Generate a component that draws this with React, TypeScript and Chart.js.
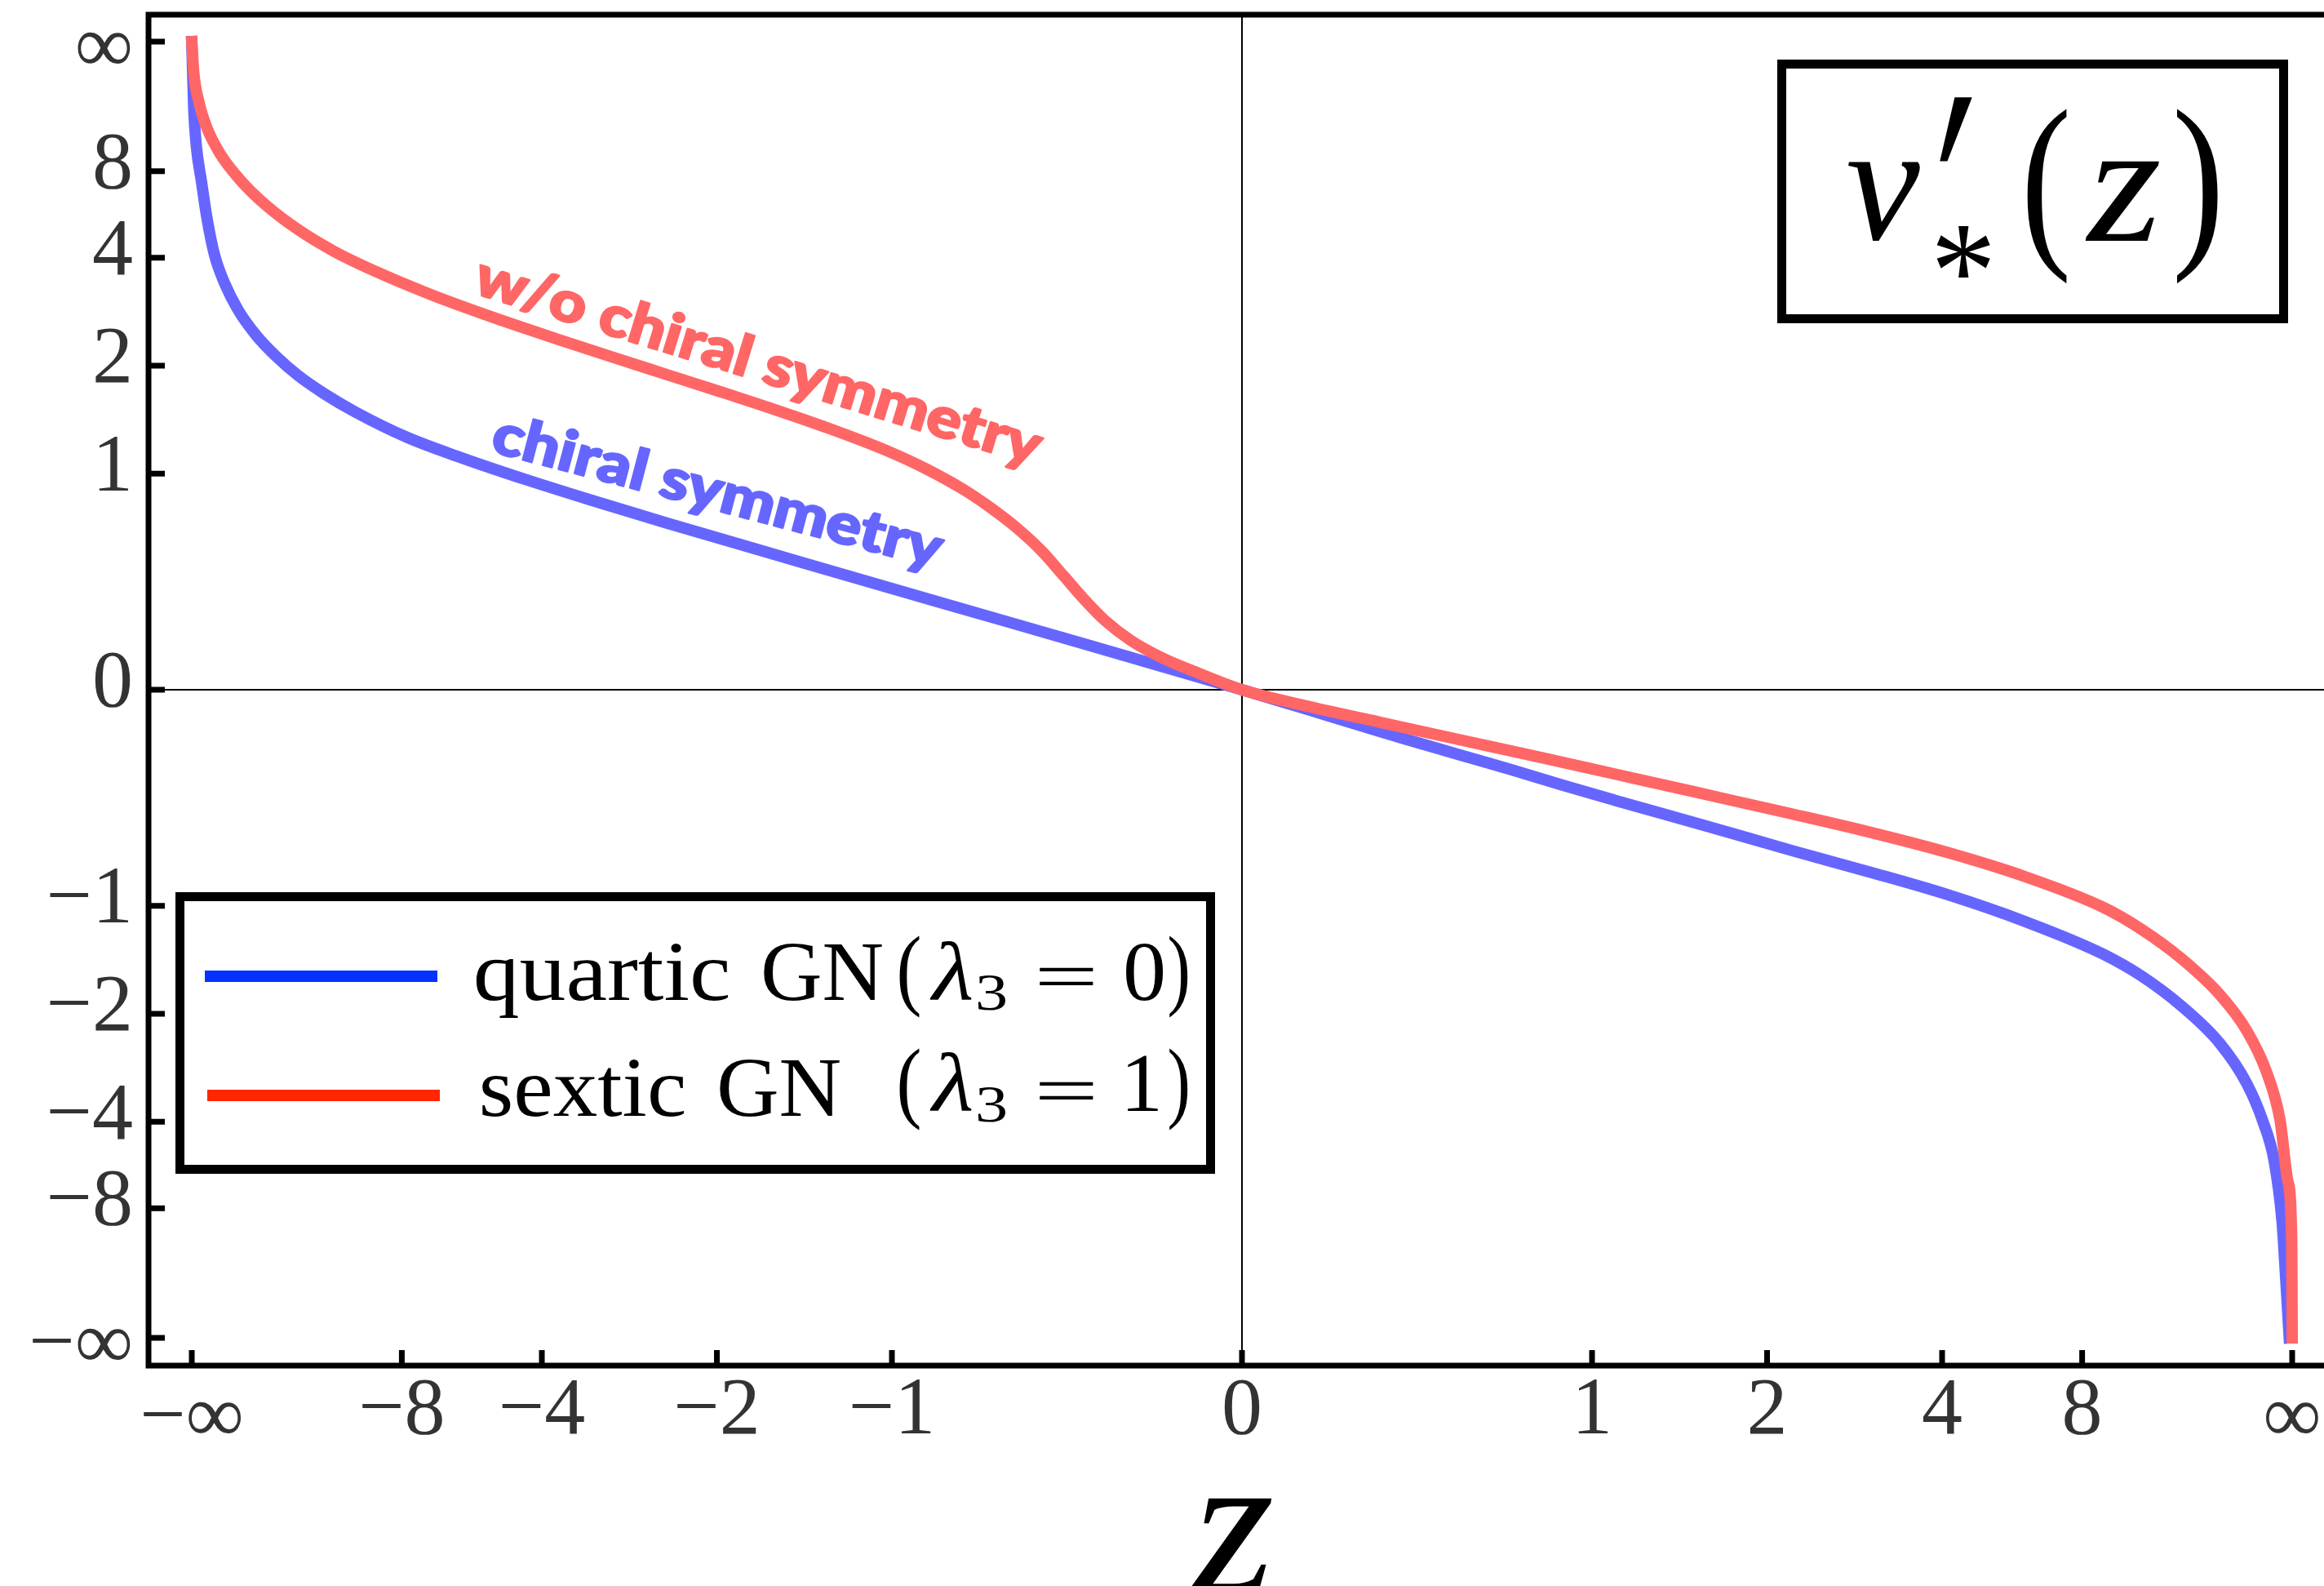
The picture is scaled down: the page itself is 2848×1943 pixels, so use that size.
import React, { useEffect, useRef } from "react";
import { Chart, registerables } from "chart.js";

Chart.register(...registerables);

const W = 2848;
const H = 1943;

// Both axes are compactified: a value u is placed at u / (|u| + 2), so ±∞ sit at ±1.
const tickValues = [-Infinity, -8, -4, -2, -1, 0, 1, 2, 4, 8, Infinity];
const tickLabels = ["−∞", "−8", "−4", "−2", "−1", "0", "1", "2", "4", "8", "∞"];

// quartic GN (λ3 = 0) — "chiral symmetry" curve, compactified z and v'
const quarticZ = [-1, -0.9981, -0.9957, -0.9907, -0.9858, -0.9783, -0.9684, -0.956, -0.9387, -0.9189, -0.899, -0.8743, -0.8445, -0.795, -0.7454, -0.681, -0.6216, -0.5472, -0.4233, -0.289, -0.1404, 0, 0.0578, 0.1074, 0.157, 0.2065, 0.256, 0.3056, 0.3551, 0.4491, 0.5232, 0.5974, 0.6716, 0.7457, 0.8198, 0.8569, 0.8939, 0.931, 0.957, 0.9718, 0.9829, 0.9904, 0.9941, 0.9972];
const quarticV = [1, 0.8955, 0.8393, 0.7834, 0.73, 0.6706, 0.6259, 0.5863, 0.547, 0.5132, 0.4851, 0.4572, 0.4288, 0.3895, 0.3592, 0.3238, 0.2935, 0.257, 0.1985, 0.1355, 0.0662, 0, -0.0282, -0.0525, -0.0768, -0.1, -0.1232, -0.1474, -0.1705, -0.2134, -0.2479, -0.281, -0.316, -0.3576, -0.4077, -0.442, -0.487, -0.5453, -0.6082, -0.6645, -0.7272, -0.8212, -0.9151, -1];

// sextic GN (λ3 = 1) — "w/o chiral symmetry" curve, compactified z and v'
const sexticZ = [-1, -0.9981, -0.9932, -0.9858, -0.9734, -0.9535, -0.9288, -0.899, -0.8643, -0.8247, -0.7751, -0.7207, -0.6463, -0.5967, -0.5472, -0.4977, -0.4481, -0.3986, -0.3391, -0.2995, -0.2643, -0.2395, -0.2147, -0.1899, -0.1702, -0.1503, -0.1305, -0.1057, -0.076, -0.0413, 0, 0.0578, 0.1322, 0.2065, 0.2808, 0.3551, 0.4294, 0.488, 0.5232, 0.5974, 0.6716, 0.7457, 0.8198, 0.8569, 0.8939, 0.931, 0.957, 0.9755, 0.9885, 0.9959, 0.9996, 1];
const sexticV = [1, 0.952, 0.9068, 0.8678, 0.8281, 0.7859, 0.7469, 0.7103, 0.6763, 0.6453, 0.6116, 0.579, 0.5381, 0.5118, 0.4861, 0.4604, 0.4341, 0.4064, 0.3695, 0.3398, 0.3081, 0.281, 0.25, 0.2128, 0.1764, 0.1396, 0.1069, 0.0759, 0.0492, 0.0256, 0, -0.0238, -0.0504, -0.0768, -0.103, -0.13, -0.157, -0.1785, -0.1914, -0.2196, -0.251, -0.2884, -0.3355, -0.37, -0.4139, -0.4703, -0.5267, -0.5894, -0.6645, -0.7586, -0.8526, -1];

const seriesNames = ["quartic GN", "sextic GN"];
const curveColors = ["#6666FF", "#FF6666"];
const legendColors = ["#0433FF", "#FF2600"];
const annotations = ["chiral symmetry", "w/o chiral symmetry"];

function compact(v: number): number {
  if (v === Infinity) return 1;
  if (v === -Infinity) return -1;
  return v / (Math.abs(v) + 2);
}

const SERIF = '"Liberation Serif", "Times New Roman", serif';

function inkFit(ctx: CanvasRenderingContext2D, text: string, font: string, color: string, x0: number, x1: number, yTop: number, yBot: number) {
  ctx.save();
  ctx.font = font;
  ctx.fillStyle = color;
  ctx.textAlign = "left";
  ctx.textBaseline = "alphabetic";
  const m = ctx.measureText(text);
  const w = m.actualBoundingBoxLeft + m.actualBoundingBoxRight;
  const h = m.actualBoundingBoxAscent + m.actualBoundingBoxDescent;
  ctx.translate(x0, yTop);
  ctx.scale((x1 - x0) / w, (yBot - yTop) / h);
  ctx.fillText(text, m.actualBoundingBoxLeft, m.actualBoundingBoxAscent);
  ctx.restore();
}

function inkW(ctx: CanvasRenderingContext2D, text: string, font: string, color: string, x0: number, x1: number, baseline: number) {
  ctx.save();
  ctx.font = font;
  ctx.fillStyle = color;
  ctx.textAlign = "left";
  ctx.textBaseline = "alphabetic";
  const m = ctx.measureText(text);
  const w = m.actualBoundingBoxLeft + m.actualBoundingBoxRight;
  ctx.translate(x0, baseline);
  ctx.scale((x1 - x0) / w, 1);
  ctx.fillText(text, m.actualBoundingBoxLeft, 0);
  ctx.restore();
}

function rotText(ctx: CanvasRenderingContext2D, text: string, font: string, color: string, x: number, y: number, deg: number, length: number) {
  ctx.save();
  ctx.font = font;
  ctx.fillStyle = color;
  ctx.strokeStyle = color;
  ctx.lineWidth = 2.5;
  ctx.lineJoin = "round";
  ctx.textAlign = "left";
  ctx.textBaseline = "alphabetic";
  const m = ctx.measureText(text);
  const w = m.actualBoundingBoxLeft + m.actualBoundingBoxRight;
  ctx.translate(x, y);
  ctx.rotate((deg * Math.PI) / 180);
  ctx.scale(length / w, 1);
  ctx.fillText(text, m.actualBoundingBoxLeft, 0);
  ctx.strokeText(text, m.actualBoundingBoxLeft, 0);
  ctx.restore();
}

const decorPlugin = {
  id: "decor",
  beforeDatasetsDraw(chart: any) {
    const { ctx, chartArea: a, scales } = chart;
    const x0 = scales.x.getPixelForValue(0);
    const y0 = scales.y.getPixelForValue(0);
    ctx.save();
    ctx.strokeStyle = "#000";
    ctx.lineWidth = 2;
    ctx.beginPath();
    ctx.moveTo(x0, a.top);
    ctx.lineTo(x0, a.bottom);
    ctx.moveTo(a.left, y0);
    ctx.lineTo(a.right, y0);
    ctx.stroke();
    ctx.restore();
  },
  afterDatasetsDraw(chart: any) {
    const { ctx, chartArea: a, scales } = chart;
    ctx.save();
    // frame (left, top, bottom)
    ctx.strokeStyle = "#000";
    ctx.lineWidth = 7;
    ctx.lineJoin = "miter";
    ctx.lineCap = "butt";
    ctx.beginPath();
    ctx.moveTo(a.right, a.top);
    ctx.lineTo(a.left, a.top);
    ctx.lineTo(a.left, a.bottom);
    ctx.lineTo(a.right, a.bottom);
    ctx.stroke();
    // inward ticks
    ctx.beginPath();
    for (const v of tickValues) {
      const px = scales.x.getPixelForValue(compact(v));
      ctx.moveTo(px, a.bottom);
      ctx.lineTo(px, a.bottom - 19);
      const py = scales.y.getPixelForValue(compact(v));
      ctx.moveTo(a.left, py);
      ctx.lineTo(a.left + 20, py);
    }
    ctx.stroke();
    ctx.restore();

    // curve annotations
    const annFont = '900 69px Lato, "Open Sans", sans-serif';
    rotText(ctx, annotations[1], annFont, curveColors[1], 578, 358.5, 17.1, 722);
    rotText(ctx, annotations[0], annFont, curveColors[0], 601.7, 553, 14.7, 565);

    // legend box
    ctx.save();
    ctx.fillStyle = "#fff";
    ctx.fillRect(215, 1093, 1274, 345);
    ctx.strokeStyle = "#000";
    ctx.lineWidth = 11;
    ctx.strokeRect(220.5, 1098.5, 1263, 334);
    ctx.lineWidth = 14;
    ctx.lineCap = "butt";
    ctx.strokeStyle = legendColors[0];
    ctx.beginPath();
    ctx.moveTo(251, 1196);
    ctx.lineTo(536, 1196);
    ctx.stroke();
    ctx.strokeStyle = legendColors[1];
    ctx.beginPath();
    ctx.moveTo(254, 1342);
    ctx.lineTo(539, 1342);
    ctx.stroke();
    ctx.restore();

    const lf = `104px ${SERIF}`;
    const lfi = `italic 104px ${SERIF}`;
    const k = "#000";
    const [q1, q2] = seriesNames[0].split(" ");
    const [s1, s2] = seriesNames[1].split(" ");
    inkW(ctx, q1, lf, k, 583, 892, 1225);
    inkW(ctx, q2, lf, k, 936, 1081, 1225);
    inkFit(ctx, "(", lf, k, 1102, 1127, 1145, 1247);
    inkFit(ctx, "λ", lfi, k, 1139, 1191, 1152, 1225);
    inkFit(ctx, "3", lf, k, 1198, 1232, 1195, 1238);
    inkFit(ctx, "=", lf, k, 1274, 1340, 1186, 1207);
    inkFit(ctx, "0", lf, k, 1379, 1426, 1155, 1226);
    inkFit(ctx, ")", lf, k, 1433, 1456, 1145, 1247);

    inkW(ctx, s1, lf, k, 591, 838, 1367);
    inkW(ctx, s2, lf, k, 882, 1029, 1367);
    inkFit(ctx, "(", lf, k, 1102, 1127, 1283, 1385);
    inkFit(ctx, "λ", lfi, k, 1139, 1191, 1289, 1361);
    inkFit(ctx, "3", lf, k, 1198, 1232, 1332, 1375);
    inkFit(ctx, "=", lf, k, 1274, 1340, 1326, 1347);
    inkFit(ctx, "1", lf, k, 1382, 1419, 1293, 1361);
    inkFit(ctx, ")", lf, k, 1433, 1456, 1283, 1385);

    // title box v'_*(z)
    ctx.save();
    ctx.fillStyle = "#fff";
    ctx.fillRect(2178, 73, 626, 323);
    ctx.strokeStyle = "#000";
    ctx.lineWidth = 11;
    ctx.strokeRect(2183.5, 78.5, 615, 312);
    ctx.restore();
    const tf = `220px ${SERIF}`;
    const tfi = `italic 220px ${SERIF}`;
    inkFit(ctx, "v", tfi, k, 2265, 2353, 198, 295);
    inkFit(ctx, "′", `220px "DejaVu Serif", serif`, k, 2377, 2417, 120, 198);
    inkFit(ctx, "*", tf, k, 2373, 2439, 277, 340);
    inkFit(ctx, "(", tf, k, 2484, 2533, 132, 347);
    inkFit(ctx, "z", tfi, k, 2555, 2646, 198, 295);
    inkFit(ctx, ")", tf, k, 2668, 2718, 132, 347);

    // x-axis title
    inkFit(ctx, "z", `italic 240px ${SERIF}`, k, 1458, 1559, 1836, 1950);
  },
};

const isInf = (i: number) => !isFinite(tickValues[i]);

// the ∞ glyph sits high in this font: push those labels down with an empty first line
function labelFor(i: number): string | string[] {
  return isInf(i) ? ["", tickLabels[i]] : tickLabels[i];
}

export default function App() {
  const ref = useRef<HTMLCanvasElement>(null);
  useEffect(() => {
    const canvas = ref.current;
    if (!canvas) return;
    const chart = new Chart(canvas, {
      type: "line",
      data: {
        datasets: [
          {
            label: seriesNames[0],
            data: quarticZ.map((z, i) => ({ x: z, y: quarticV[i] })),
            borderColor: curveColors[0],
            borderWidth: 14,
            pointRadius: 0,
            cubicInterpolationMode: "monotone",
            borderCapStyle: "square",
            borderJoinStyle: "round",
            fill: false,
            order: 2,
          },
          {
            label: seriesNames[1],
            data: sexticZ.map((z, i) => ({ x: z, y: sexticV[i] })),
            borderColor: curveColors[1],
            borderWidth: 14,
            pointRadius: 0,
            cubicInterpolationMode: "monotone",
            borderCapStyle: "square",
            borderJoinStyle: "round",
            fill: false,
            order: 1,
          },
        ],
      },
      options: {
        animation: false,
        responsive: false,
        maintainAspectRatio: false,
        devicePixelRatio: 1,
        events: [],
        layout: { padding: { top: 18, left: 0, right: 0, bottom: 0 }, autoPadding: false },
        plugins: { legend: { display: false }, tooltip: { enabled: false } },
        scales: {
          x: {
            type: "linear",
            min: -1.0412,
            max: 1.0303,
            grid: { display: false, drawTicks: false },
            border: { display: false },
            afterBuildTicks: (s: any) => {
              s.ticks = tickValues.map((v) => ({ value: compact(v) }));
            },
            afterFit: (s: any) => {
              s.height = 270;
              s.paddingLeft = 0;
              s.paddingRight = 0;
              s.paddingTop = 0;
              s.paddingBottom = 0;
            },
            ticks: {
              autoSkip: false,
              maxRotation: 0,
              minRotation: 0,
              padding: 7,
              color: "#333333",
              font: (c: any) => ({ family: SERIF, size: 100, lineHeight: isInf(c.index) ? 0.4 : 1 }),
              callback: (_v: any, i: number) => labelFor(i),
            },
          },
          y: {
            type: "linear",
            min: -1.0428,
            max: 1.0416,
            grid: { display: false, drawTicks: false },
            border: { display: false },
            afterBuildTicks: (s: any) => {
              s.ticks = tickValues.map((v) => ({ value: compact(v) }));
            },
            afterFit: (s: any) => {
              s.width = 182;
              s.paddingLeft = 0;
              s.paddingRight = 0;
              s.paddingTop = 0;
              s.paddingBottom = 0;
            },
            ticks: {
              autoSkip: false,
              padding: 19,
              labelOffset: -6,
              color: "#333333",
              font: (c: any) => ({ family: SERIF, size: 100, lineHeight: isInf(c.index) ? 0.34 : 1 }),
              callback: (_v: any, i: number) => labelFor(i),
            },
          },
        },
      },
      plugins: [decorPlugin],
    } as any);
    return () => chart.destroy();
  }, []);
  return (
    <canvas
      ref={ref}
      width={W}
      height={H}
      style={{ position: "fixed", left: 0, top: 0, width: W, height: H, display: "block", background: "#fff" }}
    />
  );
}
